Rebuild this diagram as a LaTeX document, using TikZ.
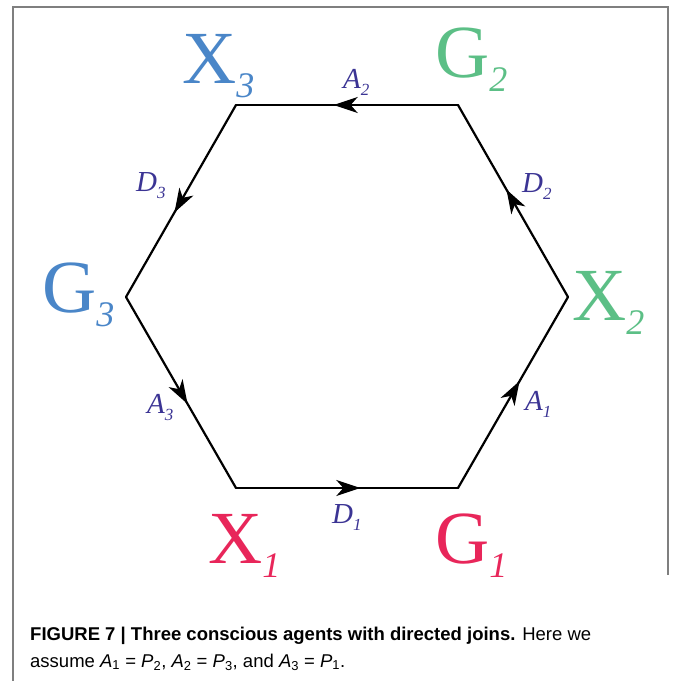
\documentclass[tikz,border=0pt]{standalone}
\usepackage{fontspec}
\setmainfont{Liberation Serif}
\newfontfamily\capfont{Liberation Sans}
\usetikzlibrary{arrows.meta,decorations.markings}

\definecolor{agentblue}{HTML}{4A86C8}
\definecolor{agentgreen}{HTML}{5CBF86}
\definecolor{agentred}{HTML}{E8265A}
\definecolor{joinink}{HTML}{3B3494}
\definecolor{framegray}{HTML}{7F7F7F}

\newcommand{\agentname}[2]{#1\raisebox{-14pt}{\fontsize{36}{36}\selectfont\itshape #2}}
\newcommand{\joinname}[2]{#1\raisebox{-7pt}{\fontsize{17}{17}\selectfont #2}}

\begin{document}
\begin{tikzpicture}[
  x=1pt, y=-1pt,
  agent/.style={anchor=base west, inner sep=0pt, font=\fontsize{75}{75}\selectfont},
  joinlab/.style={anchor=base west, inner sep=0pt, text=joinink, font=\fontsize{29}{29}\selectfont\itshape},
  leg/.style={line width=2.2pt, line cap=round, postaction={decorate},
    decoration={markings, mark=at position 0.56 with {\arrow{Stealth[length=24pt,width=16pt,inset=7pt]}}}},
  caption/.style={anchor=base west, inner sep=0pt, font=\capfont\fontsize{18.5}{22}\selectfont}
]
\useasboundingbox (0,0) rectangle (673,681);
\draw[framegray, line width=2pt] (13,681) -- (13,7) -- (668,7) -- (668,575);

% hexagon corners
\coordinate (x1) at (236,488);
\coordinate (g1) at (458,488);
\coordinate (x2) at (568,297);
\coordinate (g2) at (458,105);
\coordinate (x3) at (236,105);
\coordinate (g3) at (126,297);

% agents
\node[agent, text=agentred] (X1) at (208,563) {\agentname{X}{1}};
\node[agent, text=agentred] (G1) at (435,563) {\agentname{G}{1}};
\node[agent, text=agentgreen] (X2) at (572,320) {\agentname{X}{2}};
\node[agent, text=agentgreen] (G2) at (435,77) {\agentname{G}{2}};
\node[agent, text=agentblue] (X3) at (182,83) {\agentname{X}{3}};
\node[agent, text=agentblue] (G3) at (42,312) {\agentname{G}{3}};

% joins
\node[joinlab] (D1) at (332,523) {\joinname{D}{1}};
\node[joinlab] (A1) at (525,410) {\joinname{A}{1}};
\node[joinlab] (D2) at (522,192) {\joinname{D}{2}};
\node[joinlab] (A2) at (343,88) {\joinname{A}{2}};
\node[joinlab] (D3) at (136,191) {\joinname{D}{3}};
\node[joinlab] (A3) at (147,413) {\joinname{A}{3}};

\draw[leg] (x1) -- (g1);
\draw[leg] (g1) -- (x2);
\draw[leg] (x2) -- (g2);
\draw[leg] (g2) -- (x3);
\draw[leg] (x3) -- (g3);
\draw[leg] (g3) -- (x1);

% caption
\node[caption] (cap1) at (30,640) {\textbf{FIGURE 7 | Three conscious agents with directed joins.} Here we};
\node[caption] (cap2) at (30,667) {assume \textit{A}\textsubscript{1} = \textit{P}\textsubscript{2}, \textit{A}\textsubscript{2} = \textit{P}\textsubscript{3}, and \textit{A}\textsubscript{3} = \textit{P}\textsubscript{1}.};
\end{tikzpicture}
\end{document}
